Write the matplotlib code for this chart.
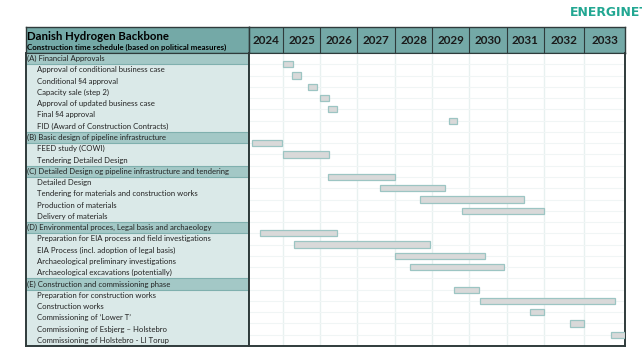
import numpy as np
import matplotlib
matplotlib.use("Agg")
import matplotlib.pyplot as plt

# ---------------- data ----------------
title = "Danish Hydrogen Backbone"
subtitle = "Construction time schedule (based on political measures)"
years = [2024, 2025, 2026, 2027, 2028, 2029, 2030, 2031, 2032, 2033]

sections = [
    "(A) Financial Approvals",
    "(B) Basic design of pipeline infrastructure",
    "(C) Detailed Design og pipeline infrastructure and tendering",
    "(D) Environmental proces, Legal basis and archaeology",
    "(E) Construction and commissioning phase",
]
tasks = [
    "Approval of conditional business case",
    "Conditional \u00a74 approval",
    "Capacity sale (step 2)",
    "Approval of updated business case",
    "Final \u00a74 approval",
    "FID (Award of Construction Contracts)",
    "FEED study (COWI)",
    "Tendering Detailed Design",
    "Detailed Design",
    "Tendering for materials and construction works",
    "Production of materials",
    "Delivery of materials",
    "Preparation for EIA process and field investigations",
    "EIA Process (incl. adoption of legal basis)",
    "Archaeological preliminary investigations",
    "Archaeological excavations (potentially)",
    "Preparation for construction works",
    "Construction works",
    "Commissioning of \u2018Lower T\u2019",
    "Commissioning of Esbjerg \u2013 Holstebro",
    "Commissioning of Holstebro - LI Torup",
]
task_section = [0, 0, 0, 0, 0, 0, 1, 1, 2, 2, 2, 2, 3, 3, 3, 3, 4, 4, 4, 4, 4]
starts = [2025.00, 2025.25, 2025.67, 2026.00, 2026.22, 2029.45,
          2024.08, 2025.00,
          2026.22, 2027.60, 2028.68, 2029.80,
          2024.33, 2025.31, 2028.00, 2028.41,
          2029.59, 2030.29, 2031.63, 2032.64, 2033.64]
ends = [2025.27, 2025.48, 2025.91, 2026.24, 2026.44, 2029.67,
        2024.97, 2026.24,
        2028.00, 2029.35, 2031.46, 2032.00,
        2026.46, 2028.95, 2030.41, 2030.94,
        2030.25, 2033.75, 2032.00, 2033.00, 2034.00]

# ---------------- layout / style ----------------
W, Hh = 642, 356
col_px = [33.4, 37.6, 37.0, 37.7, 37.3, 37.0, 37.4, 37.3, 40.3, 41.0]  # column widths
L, M, T, HB, B = 26, 249.3, 27, 53, 346
R = M + sum(col_px)

C_HEAD = "#74a9a7"
C_SEC = "#a3c8c6"
C_ITEM = "#dae9e8"
C_GRID = "#e8f1f0"
C_BAR = "#d9d9d9"
C_BAREDGE = "#9cc5c3"
C_BORDER = "#2f3b3b"
C_TEXT = "#222222"
FONT = ["Lato", "DejaVu Sans"]

edges_years = np.arange(years[0], years[-1] + 2)
edges_px = np.concatenate([[0], np.cumsum(col_px)])


def fwd(x):
    return np.interp(x, edges_years, edges_px)


def inv(p):
    return np.interp(p, edges_px, edges_years)


def rect(x0, y0, x1, y1):
    return [x0 / W, 1 - y1 / Hh, (x1 - x0) / W, (y1 - y0) / Hh]


# build row list
rows = []  # (kind, label, task index)
for s, sec in enumerate(sections):
    rows.append(("sec", sec, None))
    for i, t in enumerate(tasks):
        if task_section[i] == s:
            rows.append(("task", t, i))
nrows = len(rows)

fig = plt.figure(figsize=(W / 100, Hh / 100), dpi=100)
fig.patch.set_facecolor("white")

# logo
fig.text(570 / W, 1 - 12.5 / Hh, "ENERGINET", color="#22a792", fontsize=8.9,
         fontweight="bold", family=["DejaVu Sans"], va="center", ha="left")

# ---- title cell ----
ax_t = fig.add_axes(rect(L, T, M, HB))
ax_t.set_facecolor(C_HEAD)
ax_t.set_xticks([]); ax_t.set_yticks([])
for sp in ax_t.spines.values():
    sp.set_color(C_BORDER); sp.set_linewidth(1.0)
ax_t.text(0.006, 0.64, title, fontsize=8.2, fontweight="bold", family=FONT,
          va="center", ha="left", color="black", transform=ax_t.transAxes)
ax_t.text(0.006, 0.22, subtitle, fontsize=5.7, fontweight="bold", family=FONT,
          va="center", ha="left", color="black", transform=ax_t.transAxes)

# ---- year header ----
ax_y = fig.add_axes(rect(M, T, R, HB))
ax_y.set_xscale("function", functions=(fwd, inv))
ax_y.set_xlim(years[0], years[-1] + 1)
ax_y.set_ylim(0, 1)
ax_y.set_xticks([]); ax_y.set_yticks([])
ax_y.minorticks_off()
ax_y.set_facecolor(C_HEAD)
for sp in ax_y.spines.values():
    sp.set_color(C_BORDER); sp.set_linewidth(1.0)
for y in years:
    ax_y.axvline(y, color=C_BORDER, lw=0.8)
    ax_y.text(y + 0.5, 0.5, str(y), fontsize=8.4, fontweight="bold", family=FONT,
              ha="center", va="center", color="#1a1a1a")

# ---- label panel ----
ax_l = fig.add_axes(rect(L, HB, M, B))
ax_l.set_xlim(0, 1)
ax_l.set_ylim(nrows, 0)
ax_l.set_xticks([]); ax_l.set_yticks([])
for r, (kind, label, _) in enumerate(rows):
    if kind == "sec":
        ax_l.axhspan(r, r + 1, color=C_SEC, lw=0)
        ax_l.axhline(r, color="#7fb0ae", lw=0.8)
        ax_l.axhline(r + 1, color="#7fb0ae", lw=0.8)
        ax_l.text(0.006, r + 0.5, label, fontsize=5.6, family=FONT,
                  va="center", ha="left", color=C_TEXT)
    else:
        ax_l.axhspan(r, r + 1, color=C_ITEM, lw=0)
        ax_l.text(0.048, r + 0.5, label, fontsize=5.6, family=FONT,
                  va="center", ha="left", color=C_TEXT)
for name, sp in ax_l.spines.items():
    sp.set_color(C_BORDER)
    sp.set_linewidth(1.4 if name in ("left", "bottom", "right") else 0.8)

# ---- gantt panel ----
ax_g = fig.add_axes(rect(M, HB, R, B))
ax_g.set_xscale("function", functions=(fwd, inv))
ax_g.set_xlim(years[0], years[-1] + 1)
ax_g.set_ylim(nrows, 0)
ax_g.set_xticks([]); ax_g.set_yticks([])
ax_g.minorticks_off()
ax_g.set_facecolor("white")
for y in years[1:]:
    ax_g.axvline(y, color=C_GRID, lw=1.0, zorder=0)
for r in range(1, nrows):
    ax_g.axhline(r, color="#f0f5f5", lw=0.8, zorder=0)

bar_rows = [r for r, (k, _, i) in enumerate(rows) if k == "task"]
bar_idx = [i for (k, _, i) in rows if k == "task"]
s_arr = np.array([starts[i] for i in bar_idx])
e_arr = np.array([ends[i] for i in bar_idx])
ax_g.barh(bar_rows, e_arr - s_arr, left=s_arr, height=0.55,
          color=C_BAR, edgecolor=C_BAREDGE, linewidth=0.9, zorder=3)
for name, sp in ax_g.spines.items():
    sp.set_color(C_BORDER)
    sp.set_linewidth(1.4 if name in ("bottom", "right", "left") else 0.8)

fig.savefig("out.png", dpi=100)
